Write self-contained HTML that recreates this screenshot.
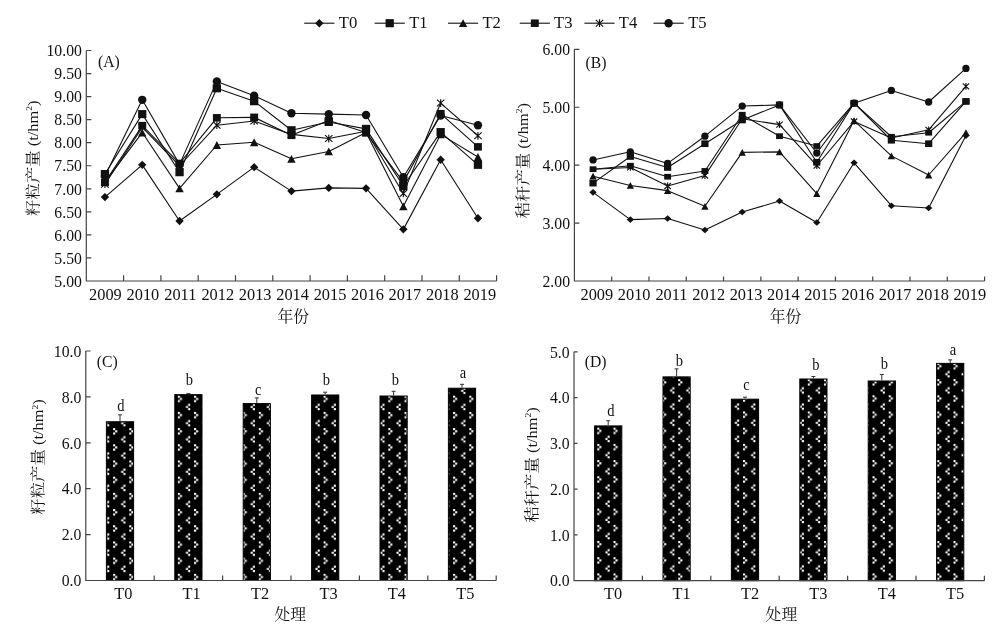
<!DOCTYPE html>
<html lang="zh"><head><meta charset="utf-8"><title>Figure</title>
<style>
html,body{margin:0;padding:0;background:#fff;}
svg{display:block;font-family:"Liberation Serif", "Noto Serif CJK SC", serif;fill:#111;}
</style></head><body>
<svg width="1003" height="629" viewBox="0 0 1003 629">
<rect width="1003" height="629" fill="#fff"/>
<g id="legend">
<line x1="304.2" y1="23.2" x2="334.4" y2="23.2" stroke="#111" stroke-width="1.1"/>
<path d="M319.3 19L323.5 23.2L319.3 27.4L315.1 23.2Z" fill="#111"/>
<text x="338.8" y="27.5" font-size="16.6">T0</text>
<line x1="374.6" y1="23.2" x2="404.8" y2="23.2" stroke="#111" stroke-width="1.1"/>
<rect x="385.55" y="19.15" width="8.3" height="8.1" fill="#111"/>
<text x="409.2" y="27.5" font-size="16.6">T1</text>
<line x1="448" y1="23.2" x2="478.2" y2="23.2" stroke="#111" stroke-width="1.1"/>
<path d="M463.1 19.3L467.3 27.1L458.9 27.1Z" fill="#111"/>
<text x="482.4" y="27.5" font-size="16.6">T2</text>
<line x1="519.7" y1="23.2" x2="549.9" y2="23.2" stroke="#111" stroke-width="1.1"/>
<rect x="530.85" y="19.45" width="7.9" height="7.5" fill="#111"/>
<text x="554" y="27.5" font-size="16.6">T3</text>
<line x1="584.4" y1="23.2" x2="614.6" y2="23.2" stroke="#111" stroke-width="1.1"/>
<path d="M595.8 19.8L603.2 26.6M603.2 19.8L595.8 26.6M599.5 19.3L599.5 27.1" stroke="#111" stroke-width="1.15" fill="none"/>
<text x="618.8" y="27.5" font-size="16.6">T4</text>
<line x1="653.5" y1="23.2" x2="683.7" y2="23.2" stroke="#111" stroke-width="1.1"/>
<circle cx="668.6" cy="23.2" r="4.2" fill="#111"/>
<text x="688.2" y="27.5" font-size="16.6">T5</text>
</g>
<g id="pA">
<path d="M86.3 50.5V281H496.6" fill="none" stroke="#444" stroke-width="1.2"/>
<text transform="translate(81.9 286.7) scale(0.905 1)" font-size="17.4" text-anchor="end">5.00</text>
<text transform="translate(81.9 263.65) scale(0.905 1)" font-size="17.4" text-anchor="end">5.50</text>
<text transform="translate(81.9 240.6) scale(0.905 1)" font-size="17.4" text-anchor="end">6.00</text>
<text transform="translate(81.9 217.55) scale(0.905 1)" font-size="17.4" text-anchor="end">6.50</text>
<text transform="translate(81.9 194.5) scale(0.905 1)" font-size="17.4" text-anchor="end">7.00</text>
<text transform="translate(81.9 171.45) scale(0.905 1)" font-size="17.4" text-anchor="end">7.50</text>
<text transform="translate(81.9 148.4) scale(0.905 1)" font-size="17.4" text-anchor="end">8.00</text>
<text transform="translate(81.9 125.35) scale(0.905 1)" font-size="17.4" text-anchor="end">8.50</text>
<text transform="translate(81.9 102.3) scale(0.905 1)" font-size="17.4" text-anchor="end">9.00</text>
<text transform="translate(81.9 79.25) scale(0.905 1)" font-size="17.4" text-anchor="end">9.50</text>
<text transform="translate(81.9 56.2) scale(0.905 1)" font-size="17.4" text-anchor="end">10.00</text>
<path d="M86.3 257.95h5.0M86.3 234.9h5.0M86.3 211.85h5.0M86.3 188.8h5.0M86.3 165.75h5.0M86.3 142.7h5.0M86.3 119.65h5.0M86.3 96.6h5.0M86.3 73.55h5.0M86.3 50.5h5.0M123.6 281v-5.8M160.9 281v-5.8M198.2 281v-5.8M235.5 281v-5.8M272.8 281v-5.8M310.1 281v-5.8M347.4 281v-5.8M384.7 281v-5.8M422 281v-5.8M459.3 281v-5.8M496.6 281v-5.8" fill="none" stroke="#444" stroke-width="1.2"/>
<text transform="translate(105.45 300.1) scale(0.94 1)" font-size="17.4" text-anchor="middle">2009</text>
<text transform="translate(142.88 300.1) scale(0.94 1)" font-size="17.4" text-anchor="middle">2010</text>
<text transform="translate(180.31 300.1) scale(0.94 1)" font-size="17.4" text-anchor="middle">2011</text>
<text transform="translate(217.74 300.1) scale(0.94 1)" font-size="17.4" text-anchor="middle">2012</text>
<text transform="translate(255.17 300.1) scale(0.94 1)" font-size="17.4" text-anchor="middle">2013</text>
<text transform="translate(292.6 300.1) scale(0.94 1)" font-size="17.4" text-anchor="middle">2014</text>
<text transform="translate(330.03 300.1) scale(0.94 1)" font-size="17.4" text-anchor="middle">2015</text>
<text transform="translate(367.46 300.1) scale(0.94 1)" font-size="17.4" text-anchor="middle">2016</text>
<text transform="translate(404.89 300.1) scale(0.94 1)" font-size="17.4" text-anchor="middle">2017</text>
<text transform="translate(442.32 300.1) scale(0.94 1)" font-size="17.4" text-anchor="middle">2018</text>
<text transform="translate(479.75 300.1) scale(0.94 1)" font-size="17.4" text-anchor="middle">2019</text>
<polyline points="104.95,197.1 142.25,164.83 179.55,221.07 216.85,194.33 254.15,167.13 291.45,191.1 328.75,187.88 366.05,188.34 403.35,229.37 440.65,159.76 477.95,218.3" fill="none" stroke="#111" stroke-width="1.1" stroke-linejoin="round"/>
<polyline points="104.95,174.05 142.25,114.12 179.55,172.2 216.85,88.3 254.15,101.21 291.45,130.25 328.75,121.96 366.05,128.87 403.35,186.03 440.65,132.1 477.95,164.83" fill="none" stroke="#111" stroke-width="1.1" stroke-linejoin="round"/>
<polyline points="104.95,181.88 142.25,132.56 179.55,188.34 216.85,145 254.15,142.24 291.45,158.83 328.75,151.46 366.05,132.56 403.35,206.32 440.65,134.4 477.95,156.99" fill="none" stroke="#111" stroke-width="1.1" stroke-linejoin="round"/>
<polyline points="104.95,182.35 142.25,125.64 179.55,163.44 216.85,117.81 254.15,117.34 291.45,135.32 328.75,120.57 366.05,132.56 403.35,181.88 440.65,113.66 477.95,146.85" fill="none" stroke="#111" stroke-width="1.1" stroke-linejoin="round"/>
<polyline points="104.95,184.19 142.25,127.49 179.55,165.75 216.85,125.18 254.15,121.03 291.45,134.4 328.75,138.55 366.05,131.17 403.35,193.41 440.65,103.05 477.95,135.78" fill="none" stroke="#111" stroke-width="1.1" stroke-linejoin="round"/>
<polyline points="104.95,175.89 142.25,99.83 179.55,164.37 216.85,81.39 254.15,95.68 291.45,113.2 328.75,114.12 366.05,115.04 403.35,177.27 440.65,115.5 477.95,125.18" fill="none" stroke="#111" stroke-width="1.1" stroke-linejoin="round"/>
<path d="M104.95 192.9L109.15 197.1L104.95 201.3L100.75 197.1Z" fill="#111"/>
<path d="M142.25 160.63L146.45 164.83L142.25 169.03L138.05 164.83Z" fill="#111"/>
<path d="M179.55 216.87L183.75 221.07L179.55 225.27L175.35 221.07Z" fill="#111"/>
<path d="M216.85 190.13L221.05 194.33L216.85 198.53L212.65 194.33Z" fill="#111"/>
<path d="M254.15 162.93L258.35 167.13L254.15 171.33L249.95 167.13Z" fill="#111"/>
<path d="M291.45 186.91L295.65 191.1L291.45 195.3L287.25 191.1Z" fill="#111"/>
<path d="M328.75 183.68L332.95 187.88L328.75 192.08L324.55 187.88Z" fill="#111"/>
<path d="M366.05 184.14L370.25 188.34L366.05 192.54L361.85 188.34Z" fill="#111"/>
<path d="M403.35 225.17L407.55 229.37L403.35 233.57L399.15 229.37Z" fill="#111"/>
<path d="M440.65 155.56L444.85 159.76L440.65 163.96L436.45 159.76Z" fill="#111"/>
<path d="M477.95 214.1L482.15 218.3L477.95 222.5L473.75 218.3Z" fill="#111"/>
<rect x="100.8" y="170" width="8.3" height="8.1" fill="#111"/>
<rect x="138.1" y="110.07" width="8.3" height="8.1" fill="#111"/>
<rect x="175.4" y="168.15" width="8.3" height="8.1" fill="#111"/>
<rect x="212.7" y="84.25" width="8.3" height="8.1" fill="#111"/>
<rect x="250" y="97.16" width="8.3" height="8.1" fill="#111"/>
<rect x="287.3" y="126.2" width="8.3" height="8.1" fill="#111"/>
<rect x="324.6" y="117.91" width="8.3" height="8.1" fill="#111"/>
<rect x="361.9" y="124.82" width="8.3" height="8.1" fill="#111"/>
<rect x="399.2" y="181.98" width="8.3" height="8.1" fill="#111"/>
<rect x="436.5" y="128.05" width="8.3" height="8.1" fill="#111"/>
<rect x="473.8" y="160.78" width="8.3" height="8.1" fill="#111"/>
<path d="M104.95 177.98L109.15 185.78L100.75 185.78Z" fill="#111"/>
<path d="M142.25 128.66L146.45 136.46L138.05 136.46Z" fill="#111"/>
<path d="M179.55 184.44L183.75 192.24L175.35 192.24Z" fill="#111"/>
<path d="M216.85 141.1L221.05 148.91L212.65 148.91Z" fill="#111"/>
<path d="M254.15 138.34L258.35 146.14L249.95 146.14Z" fill="#111"/>
<path d="M291.45 154.93L295.65 162.73L287.25 162.73Z" fill="#111"/>
<path d="M328.75 147.56L332.95 155.36L324.55 155.36Z" fill="#111"/>
<path d="M366.05 128.66L370.25 136.46L361.85 136.46Z" fill="#111"/>
<path d="M403.35 202.42L407.55 210.22L399.15 210.22Z" fill="#111"/>
<path d="M440.65 130.5L444.85 138.3L436.45 138.3Z" fill="#111"/>
<path d="M477.95 153.09L482.15 160.89L473.75 160.89Z" fill="#111"/>
<rect x="101" y="178.6" width="7.9" height="7.5" fill="#111"/>
<rect x="138.3" y="121.89" width="7.9" height="7.5" fill="#111"/>
<rect x="175.6" y="159.69" width="7.9" height="7.5" fill="#111"/>
<rect x="212.9" y="114.06" width="7.9" height="7.5" fill="#111"/>
<rect x="250.2" y="113.59" width="7.9" height="7.5" fill="#111"/>
<rect x="287.5" y="131.57" width="7.9" height="7.5" fill="#111"/>
<rect x="324.8" y="116.82" width="7.9" height="7.5" fill="#111"/>
<rect x="362.1" y="128.81" width="7.9" height="7.5" fill="#111"/>
<rect x="399.4" y="178.13" width="7.9" height="7.5" fill="#111"/>
<rect x="436.7" y="109.91" width="7.9" height="7.5" fill="#111"/>
<rect x="474" y="143.1" width="7.9" height="7.5" fill="#111"/>
<path d="M101.25 180.79L108.65 187.59M108.65 180.79L101.25 187.59M104.95 180.29L104.95 188.09" stroke="#111" stroke-width="1.15" fill="none"/>
<path d="M138.55 124.09L145.95 130.89M145.95 124.09L138.55 130.89M142.25 123.59L142.25 131.39" stroke="#111" stroke-width="1.15" fill="none"/>
<path d="M175.85 162.35L183.25 169.15M183.25 162.35L175.85 169.15M179.55 161.85L179.55 169.65" stroke="#111" stroke-width="1.15" fill="none"/>
<path d="M213.15 121.78L220.55 128.58M220.55 121.78L213.15 128.58M216.85 121.28L216.85 129.08" stroke="#111" stroke-width="1.15" fill="none"/>
<path d="M250.45 117.63L257.85 124.43M257.85 117.63L250.45 124.43M254.15 117.13L254.15 124.93" stroke="#111" stroke-width="1.15" fill="none"/>
<path d="M287.75 131L295.15 137.8M295.15 131L287.75 137.8M291.45 130.5L291.45 138.3" stroke="#111" stroke-width="1.15" fill="none"/>
<path d="M325.05 135.15L332.45 141.95M332.45 135.15L325.05 141.95M328.75 134.65L328.75 142.45" stroke="#111" stroke-width="1.15" fill="none"/>
<path d="M362.35 127.77L369.75 134.57M369.75 127.77L362.35 134.57M366.05 127.27L366.05 135.07" stroke="#111" stroke-width="1.15" fill="none"/>
<path d="M399.65 190.01L407.05 196.81M407.05 190.01L399.65 196.81M403.35 189.51L403.35 197.31" stroke="#111" stroke-width="1.15" fill="none"/>
<path d="M436.95 99.65L444.35 106.45M444.35 99.65L436.95 106.45M440.65 99.15L440.65 106.95" stroke="#111" stroke-width="1.15" fill="none"/>
<path d="M474.25 132.38L481.65 139.18M481.65 132.38L474.25 139.18M477.95 131.88L477.95 139.68" stroke="#111" stroke-width="1.15" fill="none"/>
<circle cx="104.95" cy="175.89" r="4.2" fill="#111"/>
<circle cx="142.25" cy="99.83" r="4.2" fill="#111"/>
<circle cx="179.55" cy="164.37" r="4.2" fill="#111"/>
<circle cx="216.85" cy="81.39" r="4.2" fill="#111"/>
<circle cx="254.15" cy="95.68" r="4.2" fill="#111"/>
<circle cx="291.45" cy="113.2" r="4.2" fill="#111"/>
<circle cx="328.75" cy="114.12" r="4.2" fill="#111"/>
<circle cx="366.05" cy="115.04" r="4.2" fill="#111"/>
<circle cx="403.35" cy="177.27" r="4.2" fill="#111"/>
<circle cx="440.65" cy="115.5" r="4.2" fill="#111"/>
<circle cx="477.95" cy="125.18" r="4.2" fill="#111"/>
<text transform="translate(98 67.2) scale(0.97 1)" font-size="16.2">(A)</text>
<text transform="translate(37.5 158.2) scale(0.93 1) rotate(-90)" font-size="16.4" text-anchor="middle">籽粒产量 (t/hm<tspan font-size="9.5" dy="-6.2">2</tspan><tspan dy="6.2">)</tspan></text>
<text x="293.2" y="321.6" font-size="15.8" text-anchor="middle">年份</text>
</g>
<g id="pB">
<path d="M574.4 49.3V281H984.6" fill="none" stroke="#444" stroke-width="1.2"/>
<text transform="translate(570 286.7) scale(0.905 1)" font-size="17.4" text-anchor="end">2.00</text>
<text transform="translate(570 228.77) scale(0.905 1)" font-size="17.4" text-anchor="end">3.00</text>
<text transform="translate(570 170.85) scale(0.905 1)" font-size="17.4" text-anchor="end">4.00</text>
<text transform="translate(570 112.93) scale(0.905 1)" font-size="17.4" text-anchor="end">5.00</text>
<text transform="translate(570 55) scale(0.905 1)" font-size="17.4" text-anchor="end">6.00</text>
<path d="M574.4 223.07h5.0M574.4 165.15h5.0M574.4 107.23h5.0M574.4 49.3h5.0M611.69 281v-4.6M648.98 281v-4.6M686.27 281v-4.6M723.56 281v-4.6M760.85 281v-4.6M798.15 281v-4.6M835.44 281v-4.6M872.73 281v-4.6M910.02 281v-4.6M947.31 281v-4.6M984.6 281v-4.6" fill="none" stroke="#444" stroke-width="1.2"/>
<text transform="translate(596.85 300.1) scale(0.94 1)" font-size="17.4" text-anchor="middle">2009</text>
<text transform="translate(634.14 300.1) scale(0.94 1)" font-size="17.4" text-anchor="middle">2010</text>
<text transform="translate(671.43 300.1) scale(0.94 1)" font-size="17.4" text-anchor="middle">2011</text>
<text transform="translate(708.72 300.1) scale(0.94 1)" font-size="17.4" text-anchor="middle">2012</text>
<text transform="translate(746.01 300.1) scale(0.94 1)" font-size="17.4" text-anchor="middle">2013</text>
<text transform="translate(783.3 300.1) scale(0.94 1)" font-size="17.4" text-anchor="middle">2014</text>
<text transform="translate(820.59 300.1) scale(0.94 1)" font-size="17.4" text-anchor="middle">2015</text>
<text transform="translate(857.88 300.1) scale(0.94 1)" font-size="17.4" text-anchor="middle">2016</text>
<text transform="translate(895.17 300.1) scale(0.94 1)" font-size="17.4" text-anchor="middle">2017</text>
<text transform="translate(932.46 300.1) scale(0.94 1)" font-size="17.4" text-anchor="middle">2018</text>
<text transform="translate(969.75 300.1) scale(0.94 1)" font-size="17.4" text-anchor="middle">2019</text>
<polyline points="593.05,192.37 630.34,219.6 667.63,218.44 704.92,230.03 742.21,212.07 779.5,201.06 816.79,222.5 854.08,162.83 891.37,205.7 928.66,208.01 965.95,135.61" fill="none" stroke="#111" stroke-width="1.1" stroke-linejoin="round"/>
<polyline points="593.05,183.11 630.34,156.46 667.63,167.47 704.92,143.72 742.21,119.97 779.5,104.91 816.79,162.25 854.08,103.17 891.37,140.24 928.66,143.72 965.95,101.43" fill="none" stroke="#111" stroke-width="1.1" stroke-linejoin="round"/>
<polyline points="593.05,176.16 630.34,185.42 667.63,190.64 704.92,206.28 742.21,152.41 779.5,151.83 816.79,193.53 854.08,120.55 891.37,155.88 928.66,175 965.95,132.71" fill="none" stroke="#111" stroke-width="1.1" stroke-linejoin="round"/>
<polyline points="593.05,169.2 630.34,165.73 667.63,176.74 704.92,170.94 742.21,114.76 779.5,136.19 816.79,146.03 854.08,103.17 891.37,136.77 928.66,132.71 965.95,101.43" fill="none" stroke="#111" stroke-width="1.1" stroke-linejoin="round"/>
<polyline points="593.05,169.2 630.34,167.47 667.63,186 704.92,175.58 742.21,118.81 779.5,124.6 816.79,165.73 854.08,121.42 891.37,137.93 928.66,129.82 965.95,86.37" fill="none" stroke="#111" stroke-width="1.1" stroke-linejoin="round"/>
<polyline points="593.05,159.94 630.34,151.83 667.63,163.41 704.92,136.19 742.21,106.07 779.5,104.91 816.79,152.99 854.08,103.17 891.37,90.43 928.66,102.01 965.95,68.42" fill="none" stroke="#111" stroke-width="1.1" stroke-linejoin="round"/>
<path d="M593.05 189.09L596.7 192.37L593.05 195.66L589.39 192.37Z" fill="#111"/>
<path d="M630.34 216.31L633.99 219.6L630.34 222.89L626.68 219.6Z" fill="#111"/>
<path d="M667.63 215.15L671.28 218.44L667.63 221.73L663.97 218.44Z" fill="#111"/>
<path d="M704.92 226.74L708.57 230.03L704.92 233.31L701.26 230.03Z" fill="#111"/>
<path d="M742.21 208.78L745.86 212.07L742.21 215.36L738.56 212.07Z" fill="#111"/>
<path d="M779.5 197.77L783.15 201.06L779.5 204.35L775.85 201.06Z" fill="#111"/>
<path d="M816.79 219.21L820.44 222.5L816.79 225.78L813.14 222.5Z" fill="#111"/>
<path d="M854.08 159.54L857.74 162.83L854.08 166.12L850.43 162.83Z" fill="#111"/>
<path d="M891.37 202.41L895.03 205.7L891.37 208.99L887.72 205.7Z" fill="#111"/>
<path d="M928.66 204.73L932.32 208.01L928.66 211.3L925.01 208.01Z" fill="#111"/>
<path d="M965.95 132.32L969.61 135.61L965.95 138.9L962.3 135.61Z" fill="#111"/>
<rect x="589.43" y="179.76" width="7.22" height="6.69" fill="#111"/>
<rect x="626.73" y="153.11" width="7.22" height="6.69" fill="#111"/>
<rect x="664.02" y="164.12" width="7.22" height="6.69" fill="#111"/>
<rect x="701.31" y="140.37" width="7.22" height="6.69" fill="#111"/>
<rect x="738.6" y="116.62" width="7.22" height="6.69" fill="#111"/>
<rect x="775.89" y="101.56" width="7.22" height="6.69" fill="#111"/>
<rect x="813.18" y="158.91" width="7.22" height="6.69" fill="#111"/>
<rect x="850.47" y="99.82" width="7.22" height="6.69" fill="#111"/>
<rect x="887.76" y="136.89" width="7.22" height="6.69" fill="#111"/>
<rect x="925.05" y="140.37" width="7.22" height="6.69" fill="#111"/>
<rect x="962.34" y="98.09" width="7.22" height="6.69" fill="#111"/>
<path d="M593.05 172.76L596.7 179.55L589.39 179.55Z" fill="#111"/>
<path d="M630.34 182.03L633.99 188.82L626.68 188.82Z" fill="#111"/>
<path d="M667.63 187.24L671.28 194.03L663.97 194.03Z" fill="#111"/>
<path d="M704.92 202.88L708.57 209.67L701.26 209.67Z" fill="#111"/>
<path d="M742.21 149.01L745.86 155.8L738.56 155.8Z" fill="#111"/>
<path d="M779.5 148.43L783.15 155.22L775.85 155.22Z" fill="#111"/>
<path d="M816.79 190.14L820.44 196.93L813.14 196.93Z" fill="#111"/>
<path d="M854.08 117.15L857.74 123.94L850.43 123.94Z" fill="#111"/>
<path d="M891.37 152.49L895.03 159.28L887.72 159.28Z" fill="#111"/>
<path d="M928.66 171.6L932.32 178.39L925.01 178.39Z" fill="#111"/>
<path d="M965.95 129.32L969.61 136.11L962.3 136.11Z" fill="#111"/>
<rect x="589.61" y="166.33" width="6.87" height="5.74" fill="#111"/>
<rect x="626.9" y="162.86" width="6.87" height="5.74" fill="#111"/>
<rect x="664.19" y="173.86" width="6.87" height="5.74" fill="#111"/>
<rect x="701.48" y="168.07" width="6.87" height="5.74" fill="#111"/>
<rect x="738.77" y="111.88" width="6.87" height="5.74" fill="#111"/>
<rect x="776.06" y="133.32" width="6.87" height="5.74" fill="#111"/>
<rect x="813.35" y="143.16" width="6.87" height="5.74" fill="#111"/>
<rect x="850.65" y="100.3" width="6.87" height="5.74" fill="#111"/>
<rect x="887.94" y="133.9" width="6.87" height="5.74" fill="#111"/>
<rect x="925.23" y="129.84" width="6.87" height="5.74" fill="#111"/>
<rect x="962.52" y="98.56" width="6.87" height="5.74" fill="#111"/>
<path d="M627.12 164.51L633.56 170.43M633.56 164.51L627.12 170.43M630.34 164.07L630.34 170.86" stroke="#111" stroke-width="1.15" fill="none"/>
<path d="M664.41 183.04L670.85 188.96M670.85 183.04L664.41 188.96M667.63 182.61L667.63 189.4" stroke="#111" stroke-width="1.15" fill="none"/>
<path d="M701.7 172.62L708.14 178.53M708.14 172.62L701.7 178.53M704.92 172.18L704.92 178.97" stroke="#111" stroke-width="1.15" fill="none"/>
<path d="M738.99 115.85L745.43 121.77M745.43 115.85L738.99 121.77M742.21 115.42L742.21 122.2" stroke="#111" stroke-width="1.15" fill="none"/>
<path d="M776.28 121.64L782.72 127.56M782.72 121.64L776.28 127.56M779.5 121.21L779.5 128" stroke="#111" stroke-width="1.15" fill="none"/>
<path d="M813.57 162.77L820.01 168.69M820.01 162.77L813.57 168.69M816.79 162.34L816.79 169.12" stroke="#111" stroke-width="1.15" fill="none"/>
<path d="M850.86 118.46L857.3 124.37M857.3 118.46L850.86 124.37M854.08 118.02L854.08 124.81" stroke="#111" stroke-width="1.15" fill="none"/>
<path d="M888.15 134.97L894.59 140.88M894.59 134.97L888.15 140.88M891.37 134.53L891.37 141.32" stroke="#111" stroke-width="1.15" fill="none"/>
<path d="M925.44 126.86L931.88 132.77M931.88 126.86L925.44 132.77M928.66 126.42L928.66 133.21" stroke="#111" stroke-width="1.15" fill="none"/>
<path d="M962.74 83.41L969.17 89.33M969.17 83.41L962.74 89.33M965.95 82.98L965.95 89.76" stroke="#111" stroke-width="1.15" fill="none"/>
<circle cx="593.05" cy="159.94" r="3.65" fill="#111"/>
<circle cx="630.34" cy="151.83" r="3.65" fill="#111"/>
<circle cx="667.63" cy="163.41" r="3.65" fill="#111"/>
<circle cx="704.92" cy="136.19" r="3.65" fill="#111"/>
<circle cx="742.21" cy="106.07" r="3.65" fill="#111"/>
<circle cx="779.5" cy="104.91" r="3.65" fill="#111"/>
<circle cx="816.79" cy="152.99" r="3.65" fill="#111"/>
<circle cx="854.08" cy="103.17" r="3.65" fill="#111"/>
<circle cx="891.37" cy="90.43" r="3.65" fill="#111"/>
<circle cx="928.66" cy="102.01" r="3.65" fill="#111"/>
<circle cx="965.95" cy="68.42" r="3.65" fill="#111"/>
<text transform="translate(585.6 67.6) scale(0.97 1)" font-size="16.2">(B)</text>
<text transform="translate(527.9 160.7) scale(0.93 1) rotate(-90)" font-size="16.4" text-anchor="middle">秸秆产量 (t/hm<tspan font-size="9.5" dy="-6.2">2</tspan><tspan dy="6.2">)</tspan></text>
<text x="785.6" y="321.6" font-size="15.8" text-anchor="middle">年份</text>
</g>
<defs><pattern id="divotC" patternUnits="userSpaceOnUse" width="16.19" height="16.19" x="113.1" y="428.1">
<rect width="16.19" height="16.19" fill="#000"/>
<g fill="#fff">
<rect x="0" y="0" width="2.1" height="2.1"/><rect x="2.05" y="2.15" width="2.1" height="2.1"/><rect x="0" y="4.3" width="2.1" height="2.1"/>
<rect x="10.25" y="8.1" width="2.1" height="2.1"/><rect x="8.1" y="10.25" width="2.1" height="2.1"/><rect x="10.25" y="12.4" width="2.1" height="2.1"/>
</g></pattern><pattern id="divotD" patternUnits="userSpaceOnUse" width="16.19" height="16.19" x="111.6" y="427.7">
<rect width="16.19" height="16.19" fill="#000"/>
<g fill="#fff">
<rect x="0" y="0" width="2.1" height="2.1"/><rect x="2.05" y="2.15" width="2.1" height="2.1"/><rect x="0" y="4.3" width="2.1" height="2.1"/>
<rect x="10.25" y="8.1" width="2.1" height="2.1"/><rect x="8.1" y="10.25" width="2.1" height="2.1"/><rect x="10.25" y="12.4" width="2.1" height="2.1"/>
</g></pattern></defs>
<g id="pC">
<rect x="106.4" y="421.73" width="27.2" height="158.77" fill="url(#divotC)" stroke="#000" stroke-width="1"/>
<path d="M120 421.23v-6.4M118 414.83h4" stroke="#333" stroke-width="1" fill="none"/>
<text transform="translate(120.8 411) scale(0.92 1)" font-size="15.8" text-anchor="middle">d</text>
<text transform="translate(123.3 598.5) scale(0.94 1)" font-size="17.4" text-anchor="middle">T0</text>
<rect x="174.8" y="394.65" width="27.2" height="185.85" fill="url(#divotC)" stroke="#000" stroke-width="1"/>
<path d="M188.4 394.15v-0.6M186.4 393.55h4" stroke="#333" stroke-width="1" fill="none"/>
<text transform="translate(189.5 385) scale(0.92 1)" font-size="15.8" text-anchor="middle">b</text>
<text transform="translate(191.7 598.5) scale(0.94 1)" font-size="17.4" text-anchor="middle">T1</text>
<rect x="243.2" y="403.6" width="27.2" height="176.9" fill="url(#divotC)" stroke="#000" stroke-width="1"/>
<path d="M256.8 403.1v-5.2M254.8 397.9h4" stroke="#333" stroke-width="1" fill="none"/>
<text transform="translate(258.1 394.8) scale(0.92 1)" font-size="15.8" text-anchor="middle">c</text>
<text transform="translate(260.1 598.5) scale(0.94 1)" font-size="17.4" text-anchor="middle">T2</text>
<rect x="311.6" y="394.99" width="27.2" height="185.51" fill="url(#divotC)" stroke="#000" stroke-width="1"/>
<path d="M325.2 394.49v-2.3M323.2 392.19h4" stroke="#333" stroke-width="1" fill="none"/>
<text transform="translate(326.3 385.2) scale(0.92 1)" font-size="15.8" text-anchor="middle">b</text>
<text transform="translate(328.5 598.5) scale(0.94 1)" font-size="17.4" text-anchor="middle">T3</text>
<rect x="380" y="396.02" width="27.2" height="184.48" fill="url(#divotC)" stroke="#000" stroke-width="1"/>
<path d="M393.6 395.52v-4.2M391.6 391.32h4" stroke="#333" stroke-width="1" fill="none"/>
<text transform="translate(395.5 385.2) scale(0.92 1)" font-size="15.8" text-anchor="middle">b</text>
<text transform="translate(396.9 598.5) scale(0.94 1)" font-size="17.4" text-anchor="middle">T4</text>
<rect x="448.4" y="388.22" width="27.2" height="192.28" fill="url(#divotC)" stroke="#000" stroke-width="1"/>
<path d="M462 387.72v-3.4M460 384.32h4" stroke="#333" stroke-width="1" fill="none"/>
<text transform="translate(462.9 378) scale(0.92 1)" font-size="15.8" text-anchor="middle">a</text>
<text transform="translate(465.3 598.5) scale(0.94 1)" font-size="17.4" text-anchor="middle">T5</text>
<path d="M85.8 351V580.5H496.2" fill="none" stroke="#444" stroke-width="1.2"/>
<text transform="translate(81.4 586.2) scale(0.905 1)" font-size="17.4" text-anchor="end">0.0</text>
<text transform="translate(81.4 540.3) scale(0.905 1)" font-size="17.4" text-anchor="end">2.0</text>
<text transform="translate(81.4 494.4) scale(0.905 1)" font-size="17.4" text-anchor="end">4.0</text>
<text transform="translate(81.4 448.5) scale(0.905 1)" font-size="17.4" text-anchor="end">6.0</text>
<text transform="translate(81.4 402.6) scale(0.905 1)" font-size="17.4" text-anchor="end">8.0</text>
<text transform="translate(81.4 356.7) scale(0.905 1)" font-size="17.4" text-anchor="end">10.0</text>
<path d="M85.8 534.6h4.8M85.8 488.7h4.8M85.8 442.8h4.8M85.8 396.9h4.8M85.8 351h4.8M154.2 580.5v-5.0M222.6 580.5v-5.0M291 580.5v-5.0M359.4 580.5v-5.0M427.8 580.5v-5.0M496.2 580.5v-5.0" fill="none" stroke="#444" stroke-width="1.2"/>
<text transform="translate(96.7 367) scale(0.97 1)" font-size="16.2">(C)</text>
<text transform="translate(43.3 457) scale(0.93 1) rotate(-90)" font-size="16.4" text-anchor="middle">籽粒产量 (t/hm<tspan font-size="9.5" dy="-6.2">2</tspan><tspan dy="6.2">)</tspan></text>
<text x="290.3" y="620" font-size="15.8" text-anchor="middle">处理</text>
</g>
<g id="pD">
<rect x="594.6" y="425.91" width="27.2" height="154.79" fill="url(#divotD)" stroke="#000" stroke-width="1"/>
<path d="M608.2 425.41v-4.7M606.2 420.71h4" stroke="#333" stroke-width="1" fill="none"/>
<text transform="translate(611 416.3) scale(0.92 1)" font-size="15.8" text-anchor="middle">d</text>
<text transform="translate(613.2 598.7) scale(0.94 1)" font-size="17.4" text-anchor="middle">T0</text>
<rect x="663" y="376.88" width="27.2" height="203.82" fill="url(#divotD)" stroke="#000" stroke-width="1"/>
<path d="M676.6 376.38v-7.5M674.6 368.88h4" stroke="#333" stroke-width="1" fill="none"/>
<text transform="translate(679.4 365.5) scale(0.92 1)" font-size="15.8" text-anchor="middle">b</text>
<text transform="translate(681.6 598.7) scale(0.94 1)" font-size="17.4" text-anchor="middle">T1</text>
<rect x="731.4" y="399.18" width="27.2" height="181.52" fill="url(#divotD)" stroke="#000" stroke-width="1"/>
<path d="M745 398.68v-1.5M743 397.18h4" stroke="#333" stroke-width="1" fill="none"/>
<text transform="translate(746.4 390.1) scale(0.92 1)" font-size="15.8" text-anchor="middle">c</text>
<text transform="translate(750 598.7) scale(0.94 1)" font-size="17.4" text-anchor="middle">T2</text>
<rect x="799.8" y="378.99" width="27.2" height="201.71" fill="url(#divotD)" stroke="#000" stroke-width="1"/>
<path d="M813.4 378.49v-2M811.4 376.49h4" stroke="#333" stroke-width="1" fill="none"/>
<text transform="translate(815.8 370.2) scale(0.92 1)" font-size="15.8" text-anchor="middle">b</text>
<text transform="translate(818.4 598.7) scale(0.94 1)" font-size="17.4" text-anchor="middle">T3</text>
<rect x="868.2" y="381" width="27.2" height="199.7" fill="url(#divotD)" stroke="#000" stroke-width="1"/>
<path d="M881.8 380.5v-6M879.8 374.5h4" stroke="#333" stroke-width="1" fill="none"/>
<text transform="translate(884.5 368.9) scale(0.92 1)" font-size="15.8" text-anchor="middle">b</text>
<text transform="translate(886.8 598.7) scale(0.94 1)" font-size="17.4" text-anchor="middle">T4</text>
<rect x="936.6" y="363.38" width="27.2" height="217.32" fill="url(#divotD)" stroke="#000" stroke-width="1"/>
<path d="M950.2 362.88v-3M948.2 359.88h4" stroke="#333" stroke-width="1" fill="none"/>
<text transform="translate(953 354.6) scale(0.92 1)" font-size="15.8" text-anchor="middle">a</text>
<text transform="translate(955.2 598.7) scale(0.94 1)" font-size="17.4" text-anchor="middle">T5</text>
<path d="M574 351.8V580.7H984.4" fill="none" stroke="#444" stroke-width="1.2"/>
<text transform="translate(569.6 586.4) scale(0.905 1)" font-size="17.4" text-anchor="end">0.0</text>
<text transform="translate(569.6 540.62) scale(0.905 1)" font-size="17.4" text-anchor="end">1.0</text>
<text transform="translate(569.6 494.84) scale(0.905 1)" font-size="17.4" text-anchor="end">2.0</text>
<text transform="translate(569.6 449.06) scale(0.905 1)" font-size="17.4" text-anchor="end">3.0</text>
<text transform="translate(569.6 403.28) scale(0.905 1)" font-size="17.4" text-anchor="end">4.0</text>
<text transform="translate(569.6 357.5) scale(0.905 1)" font-size="17.4" text-anchor="end">5.0</text>
<path d="M574 534.92h3.6M574 489.14h3.6M574 443.36h3.6M574 397.58h3.6M574 351.8h3.6M642.4 580.7v-5.0M710.8 580.7v-5.0M779.2 580.7v-5.0M847.6 580.7v-5.0M916 580.7v-5.0M984.4 580.7v-5.0" fill="none" stroke="#444" stroke-width="1.2"/>
<text transform="translate(584.8 367) scale(0.97 1)" font-size="16.2">(D)</text>
<text transform="translate(537 465) scale(0.93 1) rotate(-90)" font-size="16.4" text-anchor="middle">秸秆产量 (t/hm<tspan font-size="9.5" dy="-6.2">2</tspan><tspan dy="6.2">)</tspan></text>
<text x="781.4" y="620" font-size="15.8" text-anchor="middle">处理</text>
</g>
</svg>
</body></html>
